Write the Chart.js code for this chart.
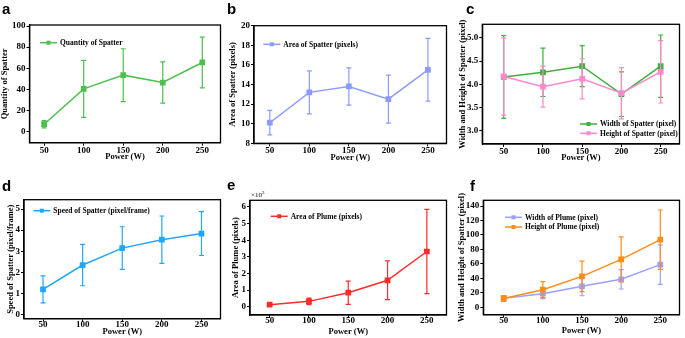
<!DOCTYPE html>
<html>
<head>
<meta charset="utf-8">
<script src="https://cdn.jsdelivr.net/npm/chart.js@4.4.0/dist/chart.umd.min.js"></script>
<style>
  body { margin: 0; background: #fff; }
  #wrap { position: relative; width: 685px; height: 338px; overflow: hidden; background: #fff; }
  #wrap canvas { position: absolute; }
  .tag { position: absolute; font: bold 15px "Liberation Sans", Arial, sans-serif; line-height: 15px; color: #000; }
  .mult { position: absolute; font: 7px "Liberation Serif", "Times New Roman", serif; line-height: 7px; color: #000; }
  .mult sup { font-size: 5px; vertical-align: 3px; }
</style>
</head>
<body>
<div id="wrap">
  <canvas id="chartA" width="226" height="168" style="left:0px;top:0px"></canvas>
  <canvas id="chartB" width="226" height="168" style="left:226px;top:0px"></canvas>
  <canvas id="chartC" width="233" height="168" style="left:452px;top:0px"></canvas>
  <canvas id="chartD" width="226" height="170" style="left:0px;top:168px"></canvas>
  <canvas id="chartE" width="226" height="170" style="left:226px;top:168px"></canvas>
  <canvas id="chartF" width="233" height="170" style="left:452px;top:168px"></canvas>
  <div class="tag" style="left:2px;top:1px">a</div>
  <div class="tag" style="left:227px;top:1px">b</div>
  <div class="tag" style="left:466px;top:1px">c</div>
  <div class="tag" style="left:2px;top:178px">d</div>
  <div class="tag" style="left:227px;top:177px">e</div>
  <div class="tag" style="left:470px;top:178px">f</div>
  <div class="mult" style="left:251px;top:189px">×10<sup>3</sup></div>
</div>
<script>
// x values (laser power, W)
const power = [50, 100, 150, 200, 250];

// a
const quantity = [7, 40.5, 53.5, 46.5, 65.5];
const quantityErr = [3.5, 27, 25, 19.5, 24];
// b
const spatterArea = [10.1, 13.2, 13.8, 12.5, 15.5];
const spatterAreaErr = [1.25, 2.2, 1.9, 2.45, 3.2];
// c
const spatterWidth = [4.16, 4.26, 4.39, 3.79, 4.39];
const spatterWidthErr = [0.89, 0.52, 0.44, 0.48, 0.67];
const spatterHeight = [4.17, 3.95, 4.12, 3.81, 4.27];
const spatterHeightErr = [0.83, 0.44, 0.43, 0.55, 0.67];
// d
const spatterSpeed = [1.2, 2.35, 3.15, 3.55, 3.84];
const spatterSpeedErr = [0.64, 0.98, 1.01, 1.12, 1.04];
// e (x10^3 pixels)
const plumeArea = [0.12, 0.32, 0.84, 1.59, 3.32];
const plumeAreaErr = [0.05, 0.2, 0.7, 1.17, 2.53];
// f
const plumeWidth = [12.4, 18.9, 29, 38.7, 59];
const plumeWidthErr = [3, 7, 13, 13.4, 27.4];
const plumeHeight = [12.2, 24.4, 42.8, 66.3, 93.5];
const plumeHeightErr = [4, 11, 21, 31, 41];

// tick labels
const aTicks = [0, 20, 40, 60, 80, 100];
const bTicks = [8, 10, 12, 14, 16, 18, 20];
const cTicks = [3.0, 3.5, 4.0, 4.5, 5.0];
const dTicks = [0, 1, 2, 3, 4, 5];
const eTicks = [0, 1, 2, 3, 4, 5, 6];
const fTicks = [0, 20, 40, 60, 80, 100, 120, 140];

const serif = '"Liberation Serif", "Times New Roman", serif';

// error bars, drawn right after each dataset so later lines cover them
const errorBars = {
    id: 'errorBars',
    afterDatasetDraw(chart, args) {
        const ds = chart.data.datasets[args.index];
        if (!ds.errors) return;
        const ctx = chart.ctx;
        const yScale = chart.scales.y;
        ctx.save();
        ctx.strokeStyle = ds.borderColor;
        ctx.lineWidth = 1.2;
        args.meta.data.forEach((pt, i) => {
            const v = ds.data[i].y;
            const top = yScale.getPixelForValue(v + ds.errors[i]);
            const bot = yScale.getPixelForValue(v - ds.errors[i]);
            ctx.beginPath();
            ctx.moveTo(pt.x, top); ctx.lineTo(pt.x, bot);
            ctx.moveTo(pt.x - 2.5, top); ctx.lineTo(pt.x + 2.5, top);
            ctx.moveTo(pt.x - 2.5, bot); ctx.lineTo(pt.x + 2.5, bot);
            ctx.stroke();
        });
        ctx.restore();
    }
};

// closed black frame round the plot
const frame = {
    id: 'frame',
    afterDraw(chart) {
        const a = chart.chartArea;
        const ctx = chart.ctx;
        ctx.save();
        ctx.strokeStyle = '#000';
        ctx.lineWidth = 1.3;
        ctx.strokeRect(a.left, a.top, a.right - a.left, a.bottom - a.top);
        ctx.restore();
    }
};

// Origin-style legend: line + square marker + label, inside the plot
const lineLegend = {
    id: 'lineLegend',
    afterDraw(chart, args, opts) {
        const a = chart.chartArea;
        const ctx = chart.ctx;
        ctx.save();
        ctx.font = 'bold 7.5px ' + serif;
        ctx.textBaseline = 'middle';
        chart.data.datasets.forEach((ds, i) => {
            const x = a.left + opts.x;
            const y = a.top + opts.y + i * opts.gap;
            ctx.strokeStyle = ds.borderColor;
            ctx.fillStyle = ds.borderColor;
            ctx.lineWidth = 1.5;
            ctx.beginPath();
            ctx.moveTo(x, y); ctx.lineTo(x + 17, y);
            ctx.stroke();
            ctx.fillRect(x + 6.5, y - 2, 4, 4);
            ctx.fillStyle = '#000';
            ctx.fillText(ds.label, x + 20, y + 0.5);
        });
        ctx.restore();
    }
};

function makeChart(p) {
    const datasets = p.series.map((s, i) => ({
        label: s.label,
        data: power.map((x, k) => ({ x: x, y: s.values[k] })),
        errors: s.errors,
        borderColor: s.color,
        backgroundColor: s.color,
        pointBackgroundColor: s.color,
        pointBorderColor: s.color,
        pointStyle: 'rect',
        pointRadius: 3,
        borderWidth: 1.5,
        order: p.series.length - i
    }));
    const [cx, cy, cw, ch] = p.box;
    const [pl, pt, pr, pb] = p.plot;
    const tickFont = { family: serif, size: 9, weight: 'bold', lineHeight: 1 };
    const titleFont = { family: serif, size: 8.5, weight: 'bold', lineHeight: 1.2 };
    return new Chart(document.getElementById(p.id), {
        type: 'line',
        data: { datasets: datasets },
        options: {
            responsive: false,
            animation: false,
            layout: { padding: { top: pt - cy, right: cx + cw - pr, left: 0, bottom: 0 } },
            plugins: {
                legend: { display: false },
                tooltip: { enabled: false },
                lineLegend: p.legend
            },
            scales: {
                x: {
                    type: 'linear',
                    min: p.xRange[0], max: p.xRange[1],
                    afterBuildTicks: s => { s.ticks = power.map(v => ({ value: v })); },
                    afterFit: s => { s.height = cy + ch - pb; },
                    grid: { drawOnChartArea: false, color: '#000', tickLength: 3 },
                    border: { color: '#000', width: 1.3 },
                    ticks: { font: tickFont, color: '#000', padding: p.xPad, autoSkip: false, maxRotation: 0 },
                    title: { display: true, text: 'Power (W)', font: titleFont, color: '#000', padding: { top: 0, bottom: p.xTitlePad } }
                },
                y: {
                    min: p.yRange[0], max: p.yRange[1],
                    afterBuildTicks: s => { s.ticks = p.yTicks.map(v => ({ value: v })); },
                    afterFit: s => { s.width = pl - cx; },
                    grid: { drawOnChartArea: false, color: '#000', tickLength: 3 },
                    border: { color: '#000', width: 1.3 },
                    ticks: { font: tickFont, color: '#000', padding: 1, autoSkip: false,
                             callback: v => p.digits ? v.toFixed(p.digits) : v },
                    title: { display: true, text: p.yTitle, font: titleFont, color: '#000', padding: { top: p.yTitlePad, bottom: 0 } }
                }
            }
        },
        plugins: [errorBars, frame, lineLegend]
    });
}

makeChart({
    id: 'chartA', box: [0, 0, 226, 168], plot: [29.5, 25, 222.7, 142.7],
    xRange: [31.5, 273], yRange: [-10.5, 101], yTicks: aTicks, digits: 0,
    yTitle: 'Quantity of Spatter', yTitlePad: 0, xTitlePad: 6, xPad: 0,
    legend: { x: 10.5, y: 17.7, gap: 10 },
    series: [{ label: 'Quantity of Spatter', values: quantity, errors: quantityErr, color: '#4fbf4f' }]
});
makeChart({
    id: 'chartB', box: [226, 0, 226, 168], plot: [254, 25.7, 447.7, 143.3],
    xRange: [30, 273.5], yRange: [8, 20], yTicks: bTicks, digits: 0,
    yTitle: 'Area of Spatter (pixels)', yTitlePad: 1.4, xTitlePad: 5, xPad: 0,
    legend: { x: 9.3, y: 18.6, gap: 10 },
    series: [{ label: 'Area of Spatter (pixels)', values: spatterArea, errors: spatterAreaErr, color: '#8c9bff' }]
});
makeChart({
    id: 'chartC', box: [452, 0, 233, 168], plot: [482.3, 24.3, 682.7, 144],
    xRange: [22.7, 274], yRange: [2.72, 5.29], yTicks: cTicks, digits: 1,
    yTitle: 'Width and Height of Spatter (pixel)', yTitlePad: 5.4, xTitlePad: 5, xPad: 0,
    legend: { x: 97.7, y: 99.7, gap: 9.3 },
    series: [
        { label: 'Width of Spatter (pixel)', values: spatterWidth, errors: spatterWidthErr, color: '#3db03d' },
        { label: 'Height of Spatter (pixel)', values: spatterHeight, errors: spatterHeightErr, color: '#ff88cc' }
    ]
});
makeChart({
    id: 'chartD', box: [0, 168, 226, 170], plot: [24, 199.7, 222.7, 318.7],
    xRange: [26, 274], yRange: [-0.19, 5.44], yTicks: dTicks, digits: 0,
    yTitle: 'Speed of Spatter (pixel/frame)', yTitlePad: 5.2, xTitlePad: 1.6, xPad: -2,
    legend: { x: 9.3, y: 11, gap: 10 },
    series: [{ label: 'Speed of Spatter (pixel/frame)', values: spatterSpeed, errors: spatterSpeedErr, color: '#1ea8ff' }]
});
makeChart({
    id: 'chartE', box: [226, 168, 226, 170], plot: [250, 200.3, 447.7, 315],
    xRange: [25, 275], yRange: [-0.5, 6.4], yTicks: eTicks, digits: 0,
    yTitle: 'Area of Plume (pixels)', yTitlePad: 5.1, xTitlePad: 1.6, xPad: -2,
    legend: { x: 20.7, y: 16, gap: 10 },
    series: [{ label: 'Area of Plume (pixels)', values: plumeArea, errors: plumeAreaErr, color: '#ff2b2b' }]
});
makeChart({
    id: 'chartF', box: [452, 168, 233, 170], plot: [483.3, 200.3, 682.7, 314.7],
    xRange: [24, 274.5], yRange: [-10.2, 147.9], yTicks: fTicks, digits: 0,
    yTitle: 'Width and Height of Spatter (pixel)', yTitlePad: 4.6, xTitlePad: 2.4, xPad: -2,
    legend: { x: 21.7, y: 17, gap: 9.7 },
    series: [
        { label: 'Width of Plume (pixel)', values: plumeWidth, errors: plumeWidthErr, color: '#9aa0ff' },
        { label: 'Height of Plume (pixel)', values: plumeHeight, errors: plumeHeightErr, color: '#ff8c1a' }
    ]
});
</script>
</body>
</html>
